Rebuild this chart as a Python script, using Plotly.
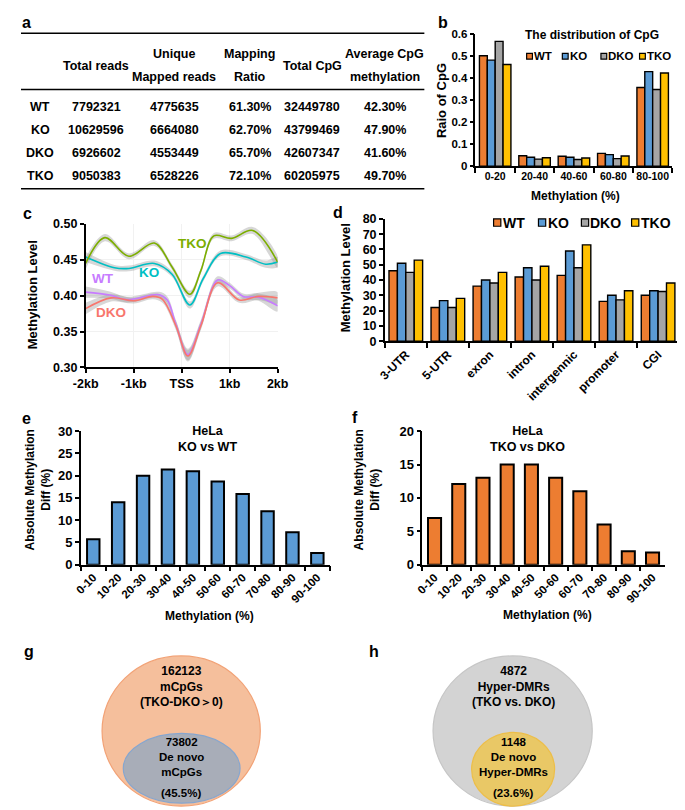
import plotly.graph_objects as go

W, H = 685, 810
FONT = "Liberation Sans"

# ---------------- data ----------------
samples = ["WT", "KO", "DKO", "TKO"]
bar_colors = ["#ED7D31", "#5B9BD5", "#A5A5A5", "#FFC000"]

# (a) table
table_cols = ["Total reads", "Unique|Mapped reads", "Mapping|Ratio", "Total CpG", "Average CpG|methylation"]
total_reads = ["7792321", "10629596", "6926602", "9050383"]
unique_mapped = ["4775635", "6664080", "4553449", "6528226"]
mapping_ratio = ["61.30%", "62.70%", "65.70%", "72.10%"]
total_cpg = ["32449780", "43799469", "42607347", "60205975"]
avg_methylation = ["42.30%", "47.90%", "41.60%", "49.70%"]

# (b) distribution of CpG
cpg_bins = ["0-20", "20-40", "40-60", "60-80", "80-100"]
cpg_wt = [0.50, 0.047, 0.045, 0.058, 0.356]
cpg_ko = [0.48, 0.040, 0.040, 0.052, 0.428]
cpg_dko = [0.565, 0.032, 0.030, 0.034, 0.347]
cpg_tko = [0.46, 0.038, 0.037, 0.046, 0.422]

# (c) methylation around TSS (kb)
tko_x = [-2.0, -1.6, -1.1, -0.57, -0.2, 0.17, 0.4, 0.67, 1.04, 1.48, 2.0]
tko_y = [0.445, 0.481, 0.455, 0.4735, 0.440, 0.402, 0.435, 0.4835, 0.480, 0.491, 0.447]
tko_ci = [0.008, 0.005, 0.004, 0.004, 0.004, 0.005, 0.004, 0.004, 0.004, 0.005, 0.008]
ko_x = [-2.0, -1.4, -1.1, -0.57, -0.2, 0.17, 0.45, 0.81, 1.34, 1.75, 2.0]
ko_y = [0.454, 0.439, 0.438, 0.445, 0.430, 0.387, 0.424, 0.459, 0.454, 0.444, 0.447]
ko_ci = [0.007, 0.004, 0.004, 0.004, 0.004, 0.005, 0.004, 0.004, 0.004, 0.005, 0.007]
wt_x = [-2.0, -1.5, -1.14, -0.47, -0.3, -0.12, 0.13, 0.40, 0.75, 1.0, 1.28, 1.6, 2.0]
wt_y = [0.405, 0.401, 0.3945, 0.4014, 0.394, 0.360, 0.318, 0.360, 0.422, 0.414, 0.399, 0.398, 0.386]
wt_ci = [0.008, 0.005, 0.004, 0.004, 0.005, 0.006, 0.008, 0.006, 0.005, 0.004, 0.004, 0.005, 0.008]
dko_x = [-2.0, -1.47, -1.0, -0.6, -0.4, -0.12, 0.13, 0.40, 0.75, 1.2, 1.6, 2.0]
dko_y = [0.382, 0.397, 0.393, 0.399, 0.395, 0.358, 0.316, 0.358, 0.418, 0.394, 0.399, 0.397]
dko_ci = [0.008, 0.005, 0.004, 0.004, 0.005, 0.006, 0.008, 0.006, 0.005, 0.004, 0.005, 0.008]
tss_ticks = [-2, -1, 0, 1, 2]
tss_labels = ["-2kb", "-1kb", "TSS", "1kb", "2kb"]

# (d) genomic regions
regions = ["3-UTR", "5-UTR", "exron", "intron", "intergennic", "promoter", "CGI"]
reg_wt = [46, 22, 36, 42, 43, 26, 30]
reg_ko = [51, 26.5, 40, 48, 59, 30, 33]
reg_dko = [45, 22, 38, 40, 48, 27, 32.5]
reg_tko = [53, 28, 45, 49, 63, 33, 38]

# (e) / (f)
diff_bins = ["0-10", "10-20", "20-30", "30-40", "40-50", "50-60", "60-70", "70-80", "80-90", "90-100"]
ko_vs_wt = [5.7, 14.0, 20.0, 21.4, 21.0, 18.7, 15.9, 12.0, 7.3, 2.6]
tko_vs_dko = [7.0, 12.1, 13.0, 15.0, 15.0, 13.0, 11.0, 6.0, 2.0, 1.8]

# (g) / (h) Venn texts
venn_g_outer = ["162123", "mCpGs", "(TKO-DKO＞0)"]
venn_g_inner = ["73802", "De novo", "mCpGs"]
venn_g_pct = "(45.5%)"
venn_h_outer = ["4872", "Hyper-DMRs", "(TKO vs. DKO)"]
venn_h_inner = ["1148", "De novo", "Hyper-DMRs"]
venn_h_pct = "(23.6%)"


# ---------------- helpers ----------------
def px(x):
    return x / W


def py(y):
    return 1 - y / H


annotations = []
shapes = []


def ann(text, x, y, size=12, color="black", xanchor="center", yanchor="middle", angle=0):
    lines = text.split("\n")
    html = "<br>".join("<b>" + t + "</b>" for t in lines)
    annotations.append(dict(
        text=html, x=px(x), y=py(y), xref="paper", yref="paper",
        showarrow=False, xanchor=xanchor, yanchor=yanchor, textangle=angle, borderpad=0,
        font=dict(family=FONT, size=size, color=color)))


def hline(x0, x1, y, w=1.5):
    shapes.append(dict(type="line", xref="paper", yref="paper", x0=px(x0), x1=px(x1),
                       y0=py(y), y1=py(y), line=dict(color="black", width=w)))


def ellipse(x0, x1, y0, y1, fill, edge):
    shapes.append(dict(type="circle", xref="paper", yref="paper", x0=px(x0), x1=px(x1),
                       y0=py(y1), y1=py(y0), fillcolor=fill, line=dict(color=edge, width=1.2),
                       layer="below"))


def square(cx, cy, s, color):
    shapes.append(dict(type="rect", xref="paper", yref="paper", x0=px(cx - s / 2), x1=px(cx + s / 2),
                       y0=py(cy + s / 2), y1=py(cy - s / 2), fillcolor=color,
                       line=dict(color="black", width=1.2)))


fig = go.Figure()

# ---------------- (a) table ----------------
ann("a", 6, 8, size=16)
hline(0, 418, 18.5)
hline(0, 418, 76)
hline(0, 418, 177)
col_x = [78, 159, 237, 302, 377]
for cx, head in zip(col_x, table_cols):
    parts = head.split("|")
    if len(parts) == 1:
        ann(parts[0], cx, 51.5, size=12.5)
    else:
        ann(parts[0], cx, 40, size=12.5)
        ann(parts[1], cx, 63, size=12.5)
row_y = [94, 117.5, 141, 164.5]
for i, ry in enumerate(row_y):
    ann(samples[i], 20, ry, size=12.5)
    for cx, col in zip(col_x, [total_reads, unique_mapped, mapping_ratio, total_cpg, avg_methylation]):
        ann(col[i], cx, ry, size=12.5)

# ---------------- (b) ----------------
for name, col, vals in zip(samples, bar_colors, [cpg_wt, cpg_ko, cpg_dko, cpg_tko]):
    fig.add_trace(go.Bar(x=cpg_bins, y=vals, name=name, showlegend=False,
                         marker=dict(color=col, line=dict(color="black", width=1.4)),
                         xaxis="x", yaxis="y"))
ann("b", 437, 8, size=16)
ann("The distribution of CpG", 592, 20, size=12)
for cx, tx, name, col in zip([527, 564, 604, 644], [531, 567.5, 607.5, 647.5], samples, bar_colors):
    square(cx, 42, 6, col)
    ann(name, tx, 42, size=11.5, xanchor="left")
ann("Raio of CpG", 436, 87, size=13, angle=-90)
ann("Methylation (%)", 575, 184, size=12)

# ---------------- (c) ----------------
line_cols = {"TKO": "#7CAE00", "KO": "#00BFC4", "WT": "#C77CFF", "DKO": "#F8766D"}
c_series = [("WT", wt_x, wt_y, wt_ci), ("DKO", dko_x, dko_y, dko_ci),
            ("KO", ko_x, ko_y, ko_ci), ("TKO", tko_x, tko_y, tko_ci)]
for name, xs, ys, ci in c_series:
    up = [a + b for a, b in zip(ys, ci)]
    lo = [a - b for a, b in zip(ys, ci)]
    fig.add_trace(go.Scatter(x=xs + xs[::-1], y=up + lo[::-1], fill="toself",
                             fillcolor="rgba(150,150,150,0.38)", line=dict(width=0, shape="spline"),
                             mode="lines", hoverinfo="skip", showlegend=False, xaxis="x2", yaxis="y2"))
for name, xs, ys, ci in c_series:
    fig.add_trace(go.Scatter(x=xs, y=ys, mode="lines", name=name, showlegend=False,
                             line=dict(color=line_cols[name], width=1.6, shape="spline"),
                             xaxis="x2", yaxis="y2"))
ann("c", 7, 202, size=16)
ann("Methylation Level", 12, 285, size=13, angle=-90)
for name, lx, ly in [("TKO", 0.22, 0.4725), ("KO", -0.68, 0.432), ("WT", -1.63, 0.4236), ("DKO", -1.47, 0.377)]:
    annotations.append(dict(text="<b>" + name + "</b>", x=lx, y=ly, xref="x2", yref="y2", showarrow=False,
                            font=dict(family=FONT, size=13.5, color=line_cols[name])))

# ---------------- (d) ----------------
for name, col, vals in zip(samples, bar_colors, [reg_wt, reg_ko, reg_dko, reg_tko]):
    fig.add_trace(go.Bar(x=regions, y=vals, name=name, showlegend=False,
                         marker=dict(color=col, line=dict(color="black", width=1.4)),
                         xaxis="x3", yaxis="y3"))
ann("d", 329, 201, size=16)
for cx, tx, name, col in zip([493.5, 540, 584.5, 636.5], [498, 545, 589, 641], samples, bar_colors):
    square(cx, 211.5, 7.5, col)
    ann(name, tx, 211.5, size=14, xanchor="left")
ann("Methylation Level", 336, 268, size=13, angle=-90)

# ---------------- (e) ----------------
fig.add_trace(go.Bar(x=diff_bins, y=ko_vs_wt, width=0.5, showlegend=False,
                     marker=dict(color="#5B9BD5", line=dict(color="black", width=2)),
                     xaxis="x4", yaxis="y4"))
ann("e", 6, 411, size=16)
ann("HeLa\nKO vs WT", 193, 432, size=12.5)
ann("Absolute Methylation\nDiff (%)", 18, 484, size=12, angle=-90)
ann("Methylation (%)", 195, 612, size=12)

# ---------------- (f) ----------------
fig.add_trace(go.Bar(x=diff_bins, y=tko_vs_dko, width=0.54, showlegend=False,
                     marker=dict(color="#ED7D31", line=dict(color="black", width=2)),
                     xaxis="x5", yaxis="y5"))
ann("f", 346, 410, size=16)
ann("HeLa\nTKO vs DKO", 525, 432, size=12.5)
ann("Absolute Methylation\nDiff (%)", 359, 484, size=12, angle=-90)
ann("Methylation (%)", 546, 611, size=12)

# ---------------- (g) / (h) Venn ----------------
ann("g", 8, 648, size=16)
ann("h", 366, 648, size=16)
ellipse(84, 248, 653, 806, "#F5BF9C", "#F2A276")
ellipse(106, 227, 732, 803, "#A8ADB8", "#86A6CF")
ellipse(427, 592, 653, 806, "#D3D3D3", "#C6C6C6")
ellipse(467, 553, 731, 806, "#E9C866", "#EDBE48")
ann("\n".join(venn_g_outer), 166, 684, size=12)
ann("\n".join(venn_g_inner), 166, 756, size=11.5)
ann(venn_g_pct, 166, 793, size=11.5)
ann("\n".join(venn_h_outer), 510, 684, size=12)
ann("\n".join(venn_h_inner), 510, 756, size=11.5)
ann(venn_h_pct, 510, 793, size=11.5)


# ---------------- axes ----------------
def axis(**kw):
    base = dict(showline=True, linecolor="black", linewidth=1.5, ticks="outside", tickcolor="black",
                tickwidth=1.5, ticklen=4, showgrid=False, zeroline=False, fixedrange=True,
                tickfont=dict(family=FONT, size=12, color="black", weight="bold"))
    base.update(kw)
    return base


def tf(s):
    return dict(family=FONT, size=s, color="black", weight="bold")


fig.update_layout(
    width=W, height=H, margin=dict(l=0, r=0, t=0, b=0),
    paper_bgcolor="white", plot_bgcolor="white",
    barmode="group", bargap=0.2, bargroupgap=0,
    showlegend=False,
    xaxis=axis(domain=[px(471), px(675)], anchor="y", type="category", tickson="boundaries",
               tickangle=0, tickfont=tf(10.5), ticklen=5),
    yaxis=axis(domain=[py(154), py(19)], anchor="x", range=[0, 0.6], dtick=0.1, tickfont=tf(11.5)),
    xaxis2=axis(domain=[px(67), px(266)], anchor="y2", range=[-2, 2], tickvals=tss_ticks,
                ticktext=tss_labels, tickfont=tf(12.5), showgrid=True, gridcolor="#F1F1F1", gridwidth=1),
    yaxis2=axis(domain=[py(359), py(213)], anchor="x2", range=[0.30, 0.50], dtick=0.05,
                tickformat=".2f", tickfont=tf(12.5), showgrid=True, gridcolor="#F1F1F1", gridwidth=1),
    xaxis3=axis(domain=[px(377), px(682)], anchor="y3", type="category", tickson="boundaries",
                tickangle=-45, tickfont=tf(12), ticklen=5),
    yaxis3=axis(domain=[py(332.3), py(207.7)], anchor="x3", range=[0, 80], dtick=10, tickfont=tf(12.5)),
    xaxis4=axis(domain=[px(62), px(320)], anchor="y4", type="category", tickson="boundaries",
                tickangle=-45, tickfont=tf(11.5), ticklen=5),
    yaxis4=axis(domain=[py(560), py(424)], anchor="x4", range=[0, 30], dtick=5, tickfont=tf(13)),
    xaxis5=axis(domain=[px(416), px(667)], anchor="y5", type="category", tickson="boundaries",
                tickangle=-45, tickfont=tf(11.5), ticklen=5),
    yaxis5=axis(domain=[py(560), py(424)], anchor="x5", range=[0, 20], dtick=5, tickfont=tf(13)),
    annotations=annotations,
    shapes=shapes,
)

fig.write_html("out.html")
